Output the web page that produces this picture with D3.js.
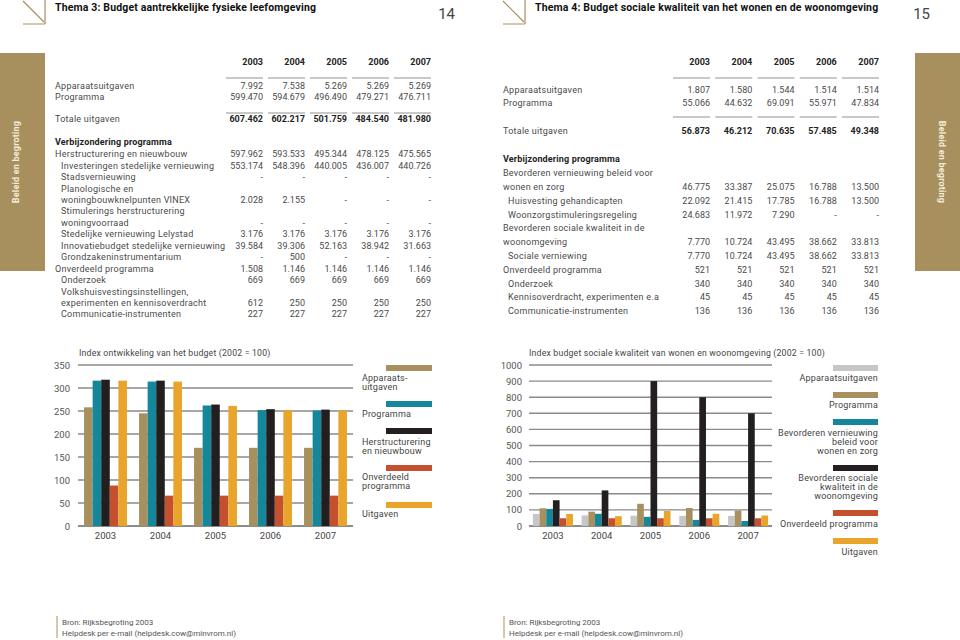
<!DOCTYPE html>
<html><head><meta charset="utf-8">
<script src="https://cdn.jsdelivr.net/npm/d3@7/dist/d3.min.js"></script>
<style>
html,body{margin:0;padding:0;background:#fff;}
svg{display:block;font-family:Roboto,"Noto Sans",sans-serif;}
</style></head>
<body>
<svg id="c" width="960" height="640"></svg>
<script>
// ---------- DATA ----------
const years = ["2003","2004","2005","2006","2007"];

// Thema 3 table
const t3TopLabels = ["Apparaatsuitgaven","Programma"];
const t3TopValues = [
  ["7.992","7.538","5.269","5.269","5.269"],
  ["599.470","594.679","496.490","479.271","476.711"]
];
const t3Total = ["607.462","602.217","501.759","484.540","481.980"];
const t3Labels = [
  "Herstructurering en nieuwbouw",
  "Investeringen stedelijke vernieuwing",
  "Stadsvernieuwing",
  "Planologische en",
  "woningbouwknelpunten VINEX",
  "Stimulerings herstructurering",
  "woningvoorraad",
  "Stedelijke vernieuwing Lelystad",
  "Innovatiebudget stedelijke vernieuwing",
  "Grondzakeninstrumentarium",
  "Onverdeeld programma",
  "Onderzoek",
  "Volkshuisvestingsinstellingen,",
  "experimenten en kennisoverdracht",
  "Communicatie-instrumenten"
];
const t3Indent = [0,1,1,1,1,1,1,1,1,1,0,1,1,1,1];
const t3Values = [
  ["597.962","593.533","495.344","478.125","475.565"],
  ["553.174","548.396","440.005","436.007","440.726"],
  ["-","-","-","-","-"],
  null,
  ["2.028","2.155","-","-","-"],
  null,
  ["-","-","-","-","-"],
  ["3.176","3.176","3.176","3.176","3.176"],
  ["39.584","39.306","52.163","38.942","31.663"],
  ["-","500","-","-","-"],
  ["1.508","1.146","1.146","1.146","1.146"],
  ["669","669","669","669","669"],
  null,
  ["612","250","250","250","250"],
  ["227","227","227","227","227"]
];

// Thema 4 table
const t4TopLabels = ["Apparaatsuitgaven","Programma"];
const t4TopValues = [
  ["1.807","1.580","1.544","1.514","1.514"],
  ["55.066","44.632","69.091","55.971","47.834"]
];
const t4Total = ["56.873","46.212","70.635","57.485","49.348"];
const t4Labels = [
  "Bevorderen vernieuwing beleid voor",
  "wonen en zorg",
  "Huisvesting gehandicapten",
  "Woonzorgstimuleringsregeling",
  "Bevorderen sociale kwaliteit in de",
  "woonomgeving",
  "Sociale verniewing",
  "Onverdeeld programma",
  "Onderzoek",
  "Kennisoverdracht, experimenten e.a",
  "Communicatie-instrumenten"
];
const t4Indent = [0,0,1,1,0,0,1,0,1,1,1];
const t4Values = [
  null,
  ["46.775","33.387","25.075","16.788","13.500"],
  ["22.092","21.415","17.785","16.788","13.500"],
  ["24.683","11.972","7.290","-","-"],
  null,
  ["7.770","10.724","43.495","38.662","33.813"],
  ["7.770","10.724","43.495","38.662","33.813"],
  ["521","521","521","521","521"],
  ["340","340","340","340","340"],
  ["45","45","45","45","45"],
  ["136","136","136","136","136"]
];

// Chart 1: Index ontwikkeling van het budget (2002 = 100)
const c1Series = ["Apparaatsuitgaven","Programma","Herstructurering en nieuwbouw","Onverdeeld programma","Uitgaven"];
const c1Legend = [["Apparaats-","uitgaven"],["Programma"],["Herstructurering","en nieuwbouw"],["Onverdeeld","programma"],["Uitgaven"]];
const c1Apparaat = [258,245,170,170,170];
const c1Programma = [316,314,262,252,251];
const c1Herstruct = [318,316,264,254,253];
const c1Onverdeeld = [88,66,66,66,66];
const c1Uitgaven = [316,314,261,252,251];
const c1Ticks = [0,50,100,150,200,250,300,350];

// Chart 2: Index budget sociale kwaliteit van wonen en woonomgeving (2002 = 100)
const c2Series = ["Apparaatsuitgaven","Programma","Bevorderen vernieuwing","Bevorderen sociale","Onverdeeld programma","Uitgaven"];
const c2Legend = [["Apparaatsuitgaven"],["Programma"],["Bevorderen vernieuwing","beleid voor","wonen en zorg"],["Bevorderen sociale","kwaliteit in de","woonomgeving"],["Onverdeeld programma"],["Uitgaven"]];
const c2Apparaat = [75,66,64,63,63];
const c2Programma = [110,89,138,112,96];
const c2Vernieuwing = [106,76,57,38,31];
const c2Sociale = [160,221,900,800,700];
const c2Onverdeeld = [48,48,48,48,48];
const c2Uitgaven = [75,61,93,76,65];
const c2Ticks = [0,100,200,300,400,500,600,700,800,900,1000];

// ---------- STYLE ----------
const TAN = "#a8905e", TEAL = "#14879a", BLACK = "#231f20", RED = "#c4502e", YELLOW = "#e8a42b", LGRAY = "#c6c6c6";
const TXT = "#4a4a4a";
const LS = "0.25px";

const svg = d3.select("#c");

// ---------- HEADERS ----------
function header(ox, title, page){
  const g = svg.append("g").attr("transform",`translate(${ox},0)`);
  g.append("path").attr("d","M23,1 L44,22 M45,0 L45,24 M23,24 L45,24")
    .attr("stroke",TAN).attr("stroke-width",1.2).attr("fill","none");
  g.append("text").attr("x",55).attr("y",11).attr("font-size",10.5).attr("font-weight","bold")
    .attr("letter-spacing","0.15px").attr("fill","#111").text(title);
  g.append("text").attr("x",ox===0?455:450).attr("y",19).attr("text-anchor","end")
    .attr("font-size",15).attr("fill","#444").text(page);
}
header(0,"Thema 3: Budget aantrekkelijke fysieke leefomgeving","14");
header(480,"Thema 4: Budget sociale kwaliteit van het wonen en de woonomgeving","15");

// ---------- SIDEBARS ----------
svg.append("rect").attr("x",0).attr("y",53).attr("width",45).attr("height",218).attr("fill",TAN);
svg.append("text").attr("transform","translate(19,162) rotate(-90)").attr("text-anchor","middle")
  .attr("font-size",9).attr("font-weight","bold").attr("letter-spacing","0.2px").attr("fill","#f4ecd8").text("Beleid en begroting");
svg.append("rect").attr("x",915).attr("y",53).attr("width",45).attr("height",218).attr("fill",TAN);
svg.append("text").attr("transform","translate(939,162) rotate(90)").attr("text-anchor","middle")
  .attr("font-size",9).attr("font-weight","bold").attr("letter-spacing","0.2px").attr("fill","#f4ecd8").text("Beleid en begroting");

// ---------- TABLES ----------
function table(cfg){
  const g = svg.append("g");
  const colX = d3.scalePoint().domain(years).range([cfg.c0, cfg.c4]);
  g.selectAll(".yh").data(years).join("text")
    .attr("x",d=>colX(d)).attr("y",cfg.yHead).attr("text-anchor","end").attr("dy","0.35em")
    .attr("font-size",9).attr("font-weight","bold").attr("fill","#222").text(d=>d);
  [cfg.line1, cfg.line2].forEach(ly=>{
    g.selectAll(null).data(years).join("line")
      .attr("x1",d=>colX(d)-37).attr("x2",d=>colX(d)).attr("y1",ly).attr("y2",ly)
      .attr("stroke","#777").attr("stroke-width",0.8);
  });
  cfg.topLabels.forEach((lab,i)=>{
    const y = cfg.topY[i];
    g.append("text").attr("x",cfg.lx).attr("y",y).attr("dy","0.35em").attr("font-size",9)
      .attr("letter-spacing",LS).attr("fill",TXT).text(lab);
    g.selectAll(null).data(cfg.topValues[i]).join("text")
      .attr("x",(d,j)=>colX(years[j])).attr("y",y).attr("dy","0.35em").attr("text-anchor","end")
      .attr("font-size",9).attr("fill",TXT).text(d=>d);
  });
  g.append("text").attr("x",cfg.lx).attr("y",cfg.totY).attr("dy","0.35em").attr("font-size",9)
    .attr("letter-spacing",LS).attr("fill",TXT).text("Totale uitgaven");
  g.selectAll(null).data(cfg.total).join("text")
    .attr("x",(d,j)=>colX(years[j])).attr("y",cfg.totY).attr("dy","0.35em").attr("text-anchor","end")
    .attr("font-size",9).attr("font-weight","bold").attr("fill","#222").text(d=>d);
  g.append("text").attr("x",cfg.lx).attr("y",cfg.verbY).attr("dy","0.35em").attr("font-size",9)
    .attr("letter-spacing","0.15px").attr("font-weight","bold").attr("fill","#222").text("Verbijzondering programma");
  const rowY = d3.scaleLinear().domain([0,1]).range([cfg.r0, cfg.r0+cfg.step]);
  cfg.labels.forEach((lab,i)=>{
    const y = rowY(i);
    g.append("text").attr("x",cfg.lx + (cfg.indent[i]?cfg.ind:0)).attr("y",y).attr("dy","0.35em")
      .attr("font-size",9).attr("letter-spacing",LS).attr("fill",TXT).text(lab);
    if(cfg.values[i]){
      g.selectAll(null).data(cfg.values[i]).join("text")
        .attr("x",(d,j)=>colX(years[j])).attr("y",y).attr("dy","0.35em").attr("text-anchor","end")
        .attr("font-size",9).attr("fill",TXT).text(d=>d);
    }
  });
}
table({c0:263,c4:431,lx:55,ind:6,yHead:62,line1:78,line2:113,
  topLabels:t3TopLabels,topValues:t3TopValues,topY:[86,97],total:t3Total,totY:119,verbY:142,
  labels:t3Labels,indent:t3Indent,values:t3Values,r0:154,step:11.45});
table({c0:710,c4:879,lx:503,ind:5,yHead:62,line1:78,line2:117,
  topLabels:t4TopLabels,topValues:t4TopValues,topY:[90,103],total:t4Total,totY:131,verbY:159,
  labels:t4Labels,indent:t4Indent,values:t4Values,r0:173,step:13.8});

// ---------- CHARTS ----------
function chart(cfg){
  const g = svg.append("g");
  const x0 = d3.scaleBand().domain(years).range([cfg.xl,cfg.xr]).paddingInner(cfg.pi).paddingOuter(cfg.po);
  const x1 = d3.scaleBand().domain(d3.range(cfg.series.length)).range([0,x0.bandwidth()]);
  const y = d3.scaleLinear().domain([0,cfg.max]).range([526,365]);
  g.selectAll(".gr").data(cfg.ticks).join("line")
    .attr("x1",cfg.xl).attr("x2",cfg.xr).attr("y1",d=>y(d)).attr("y2",d=>y(d))
    .attr("stroke",d=>d===0?"#666":"#8a8a8a").attr("stroke-width",1.4);
  const yAx = d3.axisLeft(y).tickValues(cfg.ticks).tickFormat(d3.format("d")).tickSize(0).tickPadding(0);
  const ya = g.append("g").attr("transform",`translate(${cfg.tx},0)`).call(yAx);
  ya.select(".domain").remove();
  ya.selectAll("text").attr("font-size",9.5).attr("fill","#555").attr("font-family","Roboto,sans-serif");
  cfg.series.forEach((vals,si)=>{
    g.selectAll(null).data(vals).join("rect")
      .attr("x",(d,i)=>x0(years[i])+x1(si)).attr("width",x1.bandwidth())
      .attr("y",d=>y(d)).attr("height",d=>y(0)-y(d)).attr("fill",cfg.colors[si]);
  });
  const xAx = d3.axisBottom(x0).tickSize(0).tickPadding(0);
  const xa = g.append("g").attr("transform",`translate(0,532)`).call(xAx);
  xa.select(".domain").remove();
  xa.selectAll("text").attr("font-size",9.5).attr("fill","#444").attr("font-family","Roboto,sans-serif");
  g.append("text").attr("x",cfg.titleX).attr("y",353).attr("dy","0.35em").attr("font-size",8.7)
    .attr("letter-spacing","0.2px").attr("fill","#444").text(cfg.title);
  cfg.legend.forEach((lines,i)=>{
    g.append("rect").attr("x",cfg.lgX0).attr("y",cfg.swY[i]).attr("width",cfg.lgX1-cfg.lgX0).attr("height",6)
      .attr("fill",cfg.colors[i]);
    lines.forEach((ln,k)=>{
      g.append("text").attr("x",cfg.lgAnchor==="end"?cfg.lgX1:cfg.lgTextX).attr("y",cfg.txY[i]+k*9)
        .attr("dy","0.35em").attr("text-anchor",cfg.lgAnchor).attr("font-size",9)
        .attr("letter-spacing","0.2px").attr("fill","#444").text(ln);
    });
  });
}
chart({xl:78,xr:353,pi:0.22,po:0.11,max:350,ticks:c1Ticks,tx:70,
  series:[c1Apparaat,c1Programma,c1Herstruct,c1Onverdeeld,c1Uitgaven],
  colors:[TAN,TEAL,BLACK,RED,YELLOW],
  title:"Index ontwikkeling van het budget (2002 = 100)",titleX:79,
  legend:c1Legend,lgX0:386,lgX1:432,lgTextX:362,lgAnchor:"start",
  swY:[365,401,428,465,502],txY:[378,414,442,477,514]});
chart({xl:529,xr:772,pi:0.18,po:0.08,max:1000,ticks:c2Ticks,tx:522,
  series:[c2Apparaat,c2Programma,c2Vernieuwing,c2Sociale,c2Onverdeeld,c2Uitgaven],
  colors:[LGRAY,TAN,TEAL,BLACK,RED,YELLOW],
  title:"Index budget sociale kwaliteit van wonen en woonomgeving (2002 = 100)",titleX:529,
  legend:c2Legend,lgX0:833,lgX1:878,lgAnchor:"end",
  swY:[365,392,419,465,510,538],txY:[378,405,433,478,524,552]});

// ---------- FOOTERS ----------
[[57,"Bron: Rijksbegroting 2003"],[504,"Bron: Rijksbegroting 2003"]].forEach(([fx,t])=>{
  svg.append("line").attr("x1",fx).attr("x2",fx).attr("y1",616).attr("y2",638).attr("stroke",TAN).attr("stroke-width",1);
  svg.append("text").attr("x",fx+5).attr("y",622).attr("dy","0.35em").attr("font-size",8).attr("fill","#555").text(t);
  svg.append("text").attr("x",fx+5).attr("y",633).attr("dy","0.35em").attr("font-size",8).attr("fill","#555")
    .text("Helpdesk per e-mail (helpdesk.cow@minvrom.nl)");
});
</script>
</body></html>
